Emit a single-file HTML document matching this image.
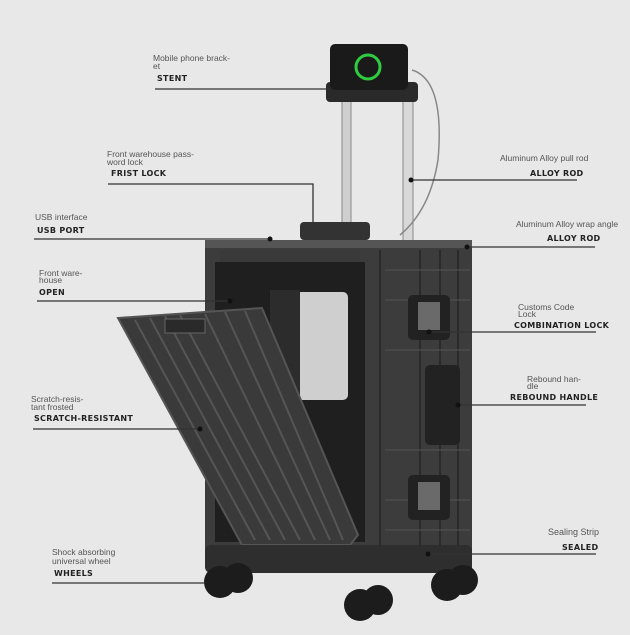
<!DOCTYPE html>
<html><head><meta charset="utf-8"><style>
html,body{margin:0;padding:0;background:#e8e8e8}
svg{display:block}
.s{font-family:"Liberation Sans",sans-serif;font-size:8.5px;fill:#555}
.b{font-family:"DejaVu Sans","Liberation Sans",sans-serif;font-size:8px;font-weight:bold;fill:#222;letter-spacing:0.3px}
.l{stroke:#333;stroke-width:1.3}
</style></head><body>
<svg width="630" height="635" viewBox="0 0 630 635">
<rect width="630" height="635" fill="#e8e8e8"/>
<!-- handle rods -->
<rect x="342" y="95" width="9" height="150" fill="#cfcfcf" stroke="#888"/>
<rect x="403" y="95" width="10" height="150" fill="#d8d8d8" stroke="#888"/>
<rect x="326" y="82" width="92" height="20" rx="4" fill="#2a2a2a"/>
<!-- phone -->
<rect x="330" y="44" width="78" height="46" rx="5" fill="#1a1a1a"/>
<circle cx="368" cy="67" r="12" fill="none" stroke="#2ecc40" stroke-width="3"/>
<path d="M412 70 Q445 80 438 160 Q430 210 400 235" fill="none" stroke="#888" stroke-width="1.5"/>
<!-- top handle -->
<rect x="300" y="222" width="70" height="18" rx="4" fill="#333"/>
<!-- body -->
<rect x="205" y="240" width="267" height="320" rx="8" fill="#3c3c3c"/>
<rect x="205" y="240" width="267" height="8" fill="#555"/>
<g stroke="#2a2a2a" stroke-width="2">
<line x1="380" y1="250" x2="380" y2="555"/><line x1="420" y1="250" x2="420" y2="555"/>
<line x1="440" y1="250" x2="440" y2="555"/><line x1="458" y1="250" x2="458" y2="555"/>
</g>
<g stroke="#555" stroke-width="1">
<line x1="385" y1="270" x2="470" y2="270"/><line x1="385" y1="300" x2="470" y2="300"/>
<line x1="385" y1="350" x2="470" y2="350"/><line x1="385" y1="450" x2="470" y2="450"/>
<line x1="385" y1="500" x2="470" y2="500"/><line x1="385" y1="530" x2="470" y2="530"/>
</g>
<!-- opening -->
<rect x="215" y="262" width="150" height="280" fill="#1f1f1f"/>
<g fill="#3a3a3a"><rect x="220" y="250" width="140" height="12"/></g>
<rect x="296" y="292" width="52" height="108" rx="5" fill="#cfcfcf"/>
<rect x="270" y="290" width="30" height="180" fill="#2c2c2c"/>
<!-- locks & handle -->
<rect x="408" y="295" width="42" height="45" rx="5" fill="#222"/>
<rect x="418" y="302" width="22" height="28" fill="#6a6a6a"/>
<rect x="425" y="365" width="35" height="80" rx="5" fill="#222"/>
<rect x="408" y="475" width="42" height="45" rx="5" fill="#222"/>
<rect x="418" y="482" width="22" height="28" fill="#6a6a6a"/>
<!-- lid -->
<polygon points="118,318 262,308 358,535 350,545 242,545" fill="#3a3a3a" stroke="#555" stroke-width="2"/>
<g stroke="#555" stroke-width="2">
<line x1="135" y1="320" x2="255" y2="540"/><line x1="150" y1="318" x2="270" y2="540"/>
<line x1="165" y1="316" x2="285" y2="540"/><line x1="180" y1="315" x2="300" y2="540"/>
<line x1="205" y1="314" x2="315" y2="540"/><line x1="225" y1="312" x2="330" y2="540"/>
<line x1="245" y1="311" x2="343" y2="540"/>
</g>
<rect x="165" y="319" width="40" height="14" fill="#2a2a2a" stroke="#666"/>
<!-- base & wheels -->
<rect x="205" y="545" width="267" height="28" rx="6" fill="#2e2e2e"/>
<g fill="#1c1c1c">
<circle cx="220" cy="582" r="16"/><circle cx="238" cy="578" r="15"/>
<circle cx="360" cy="605" r="16"/><circle cx="378" cy="600" r="15"/>
<circle cx="447" cy="585" r="16"/><circle cx="463" cy="580" r="15"/>
</g>
<!-- labels left -->
<text class="s" x="153" y="61">Mobile phone brack-</text><text class="s" x="153" y="69">et</text>
<text class="b" x="157" y="81">STENT</text>
<line class="l" x1="155" y1="89" x2="330" y2="89"/>
<text class="s" x="107" y="157">Front warehouse pass-</text><text class="s" x="107" y="165">word lock</text>
<text class="b" x="111" y="176">FRIST LOCK</text>
<path class="l" d="M108 184 H313 V225" fill="none"/>
<text class="s" x="35" y="220">USB interface</text>
<text class="b" x="37" y="233">USB PORT</text>
<line class="l" x1="34" y1="239" x2="270" y2="239"/><circle cx="270" cy="239" r="2.5" fill="#111"/>
<text class="s" x="39" y="276">Front ware-</text><text class="s" x="39" y="283">house</text>
<text class="b" x="39" y="295">OPEN</text>
<line class="l" x1="37" y1="301" x2="230" y2="301"/><circle cx="230" cy="301" r="2.5" fill="#111"/>
<text class="s" x="31" y="402">Scratch-resis-</text><text class="s" x="31" y="410">tant frosted</text>
<text class="b" x="34" y="421">SCRATCH-RESISTANT</text>
<line class="l" x1="33" y1="429" x2="200" y2="429"/><circle cx="200" cy="429" r="2.5" fill="#111"/>
<text class="s" x="52" y="555">Shock absorbing</text><text class="s" x="52" y="564">universal wheel</text>
<text class="b" x="54" y="576">WHEELS</text>
<line class="l" x1="52" y1="583" x2="205" y2="583"/>
<!-- labels right -->
<text class="s" x="500" y="161">Aluminum Alloy pull rod</text>
<text class="b" x="530" y="176">ALLOY ROD</text>
<line class="l" x1="411" y1="180" x2="577" y2="180"/><circle cx="411" cy="180" r="2.5" fill="#111"/>
<text class="s" x="516" y="227">Aluminum Alloy wrap angle</text>
<text class="b" x="547" y="241">ALLOY ROD</text>
<line class="l" x1="467" y1="247" x2="595" y2="247"/><circle cx="467" cy="247" r="2.5" fill="#111"/>
<text class="s" x="518" y="310">Customs Code</text><text class="s" x="518" y="317">Lock</text>
<text class="b" x="514" y="328">COMBINATION LOCK</text>
<line class="l" x1="429" y1="332" x2="596" y2="332"/><circle cx="429" cy="332" r="2.5" fill="#111"/>
<text class="s" x="527" y="382">Rebound han-</text><text class="s" x="527" y="389">dle</text>
<text class="b" x="510" y="400">REBOUND HANDLE</text>
<line class="l" x1="458" y1="405" x2="586" y2="405"/><circle cx="458" cy="405" r="2.5" fill="#111"/>
<text class="s" x="548" y="535" style="font-size:9px">Sealing Strip</text>
<text class="b" x="562" y="550">SEALED</text>
<line class="l" x1="428" y1="554" x2="596" y2="554"/><circle cx="428" cy="554" r="2.5" fill="#111"/>
</svg>
</body></html>
